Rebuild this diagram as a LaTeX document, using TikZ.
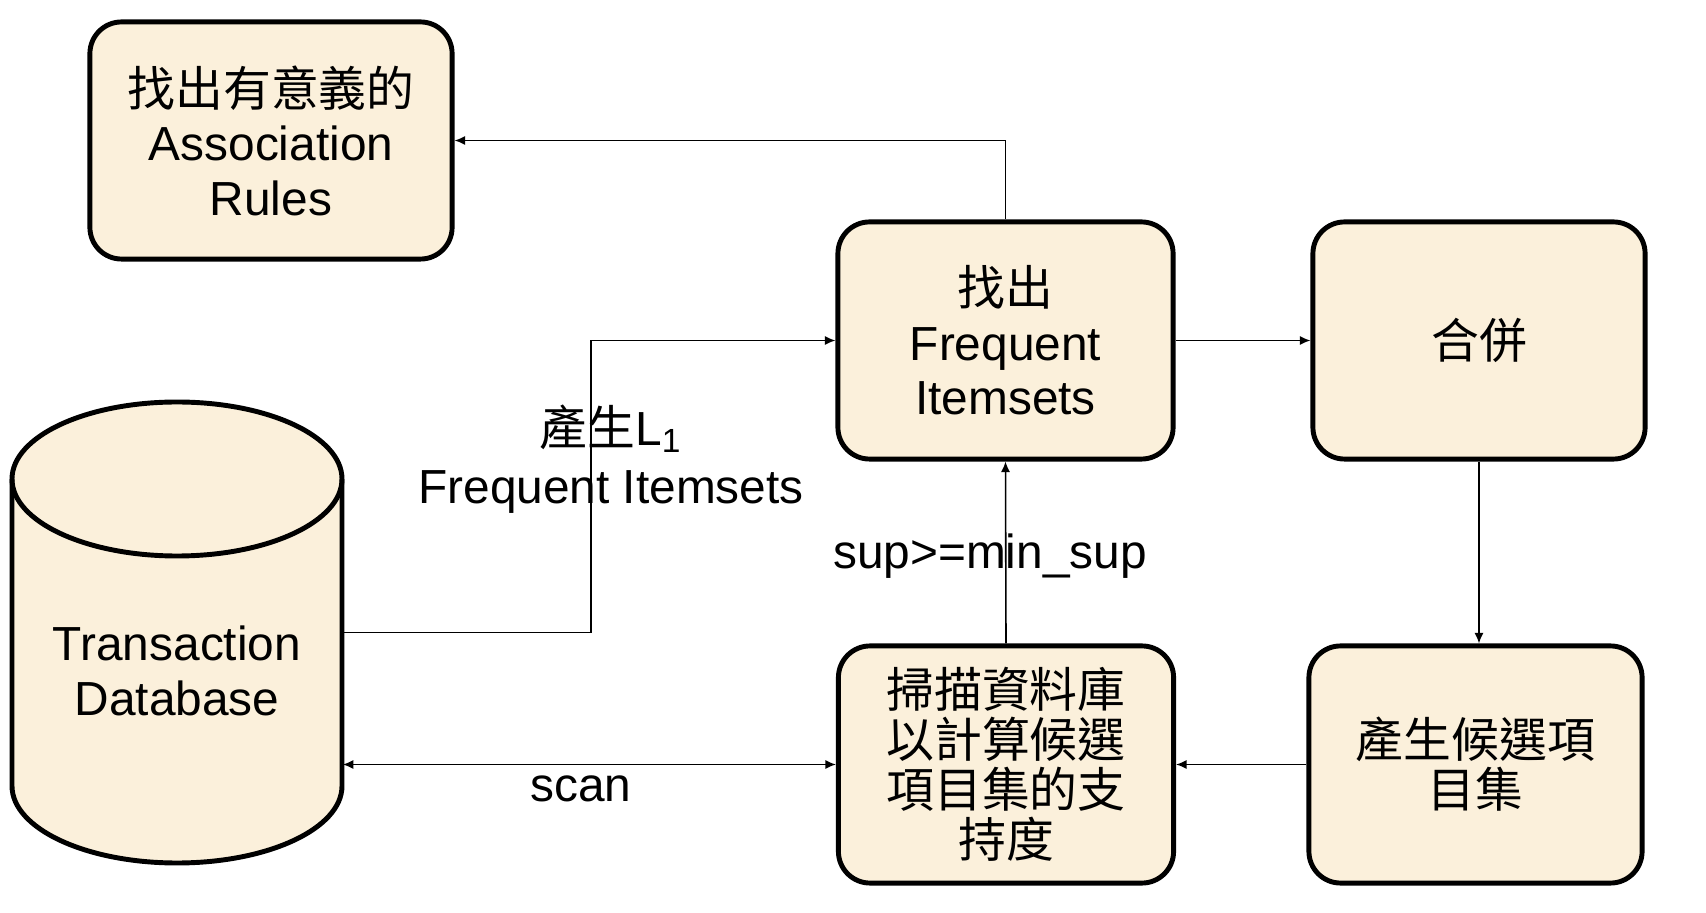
\documentclass[tikz,border=0pt]{standalone}
\usepackage{fontspec}
\setmainfont{Liberation Sans}
\newfontfamily\cjk{Noto Sans CJK TC}
\usepackage{tikz}
\usetikzlibrary{positioning}
\usetikzlibrary{arrows.meta}
\definecolor{boxfill}{HTML}{FBF0DB}

\tikzset{
  stepbox/.style={draw, line width=1.4pt, rounded corners=9pt, fill=boxfill,
    minimum width=3.35cm, minimum height=2.37cm, align=center, inner sep=2pt,
    font=\fontsize{13.6}{15.5}\selectfont},
  cjkbox/.style={stepbox, font=\cjk\fontsize{13.6}{14.2}\selectfont},
  dbbody/.style={minimum width=3.3cm, minimum height=4.61cm, inner sep=0pt},
  steplabel/.style={align=center, inner sep=1pt, font=\fontsize{13.6}{16.5}\selectfont},
  link/.style={line width=0.45pt, -{Latex[length=3pt,width=2.6pt]}},
}

\begin{document}
\begin{tikzpicture}[x=0.01cm, y=0.01cm]
  \useasboundingbox (0,0) rectangle (1706,912);

  % boxes
  \node[stepbox, minimum width=3.62cm] (rules) at (271,771.5) {{\cjk 找出有意義的}\\Association\\Rules};
  \node[stepbox] (freq) at (1005.5,571.5) {{\cjk 找出}\\Frequent\\Itemsets};
  \node[cjkbox, minimum width=3.32cm] (merge) at (1479,571.5) {合併};
  \node[cjkbox] (scanbox) at (1006,147.5) {掃描資料庫\\以計算候選\\項目集的支\\持度};
  \node[cjkbox, minimum width=3.33cm] (cand) at (1475.5,147.5) {產生候選項\\目集};

  % database cylinder
  \node[dbbody] (db) at (177,279.5) {};
  \draw[line width=1.4pt, fill=boxfill] (12,433) -- (12,126)
    arc[start angle=180, end angle=360, x radius=165, y radius=77] -- (342,433)
    arc[start angle=0, end angle=180, x radius=165, y radius=77] -- cycle;
  \draw[line width=1.4pt] (12,433) arc[start angle=180, end angle=360, x radius=165, y radius=77];
  \node[steplabel, font=\fontsize{13.6}{15.5}\selectfont] (dbtext) at (177,241) {Transaction\\Database};

  % connectors
  \draw[link] (freq.north) |- (rules.east);
  \draw[link] (db.east) -- ++(248,0) |- (freq.west);
  \draw[link] (freq.east) -- (merge.west);
  \draw[link] (merge.south) -- (merge.south |- cand.north);
  \draw[link] (cand.west) -- (scanbox.east);
  \draw[link] (scanbox.north) -- (freq.south);
  \draw[link, {Latex[length=3pt,width=2.6pt]}-{Latex[length=3pt,width=2.6pt]}] (db.east |- scanbox.west) -- (scanbox.west);

  % labels
  \node[steplabel] (l1label) at (611,453) {{\cjk 產生}L\textsubscript{1}\\Frequent Itemsets};
  \node[steplabel] (suplabel) at (990,356) {sup>=min\_sup};
  \node[steplabel] (scanlabel) at (581,123) {scan};
\end{tikzpicture}
\end{document}
